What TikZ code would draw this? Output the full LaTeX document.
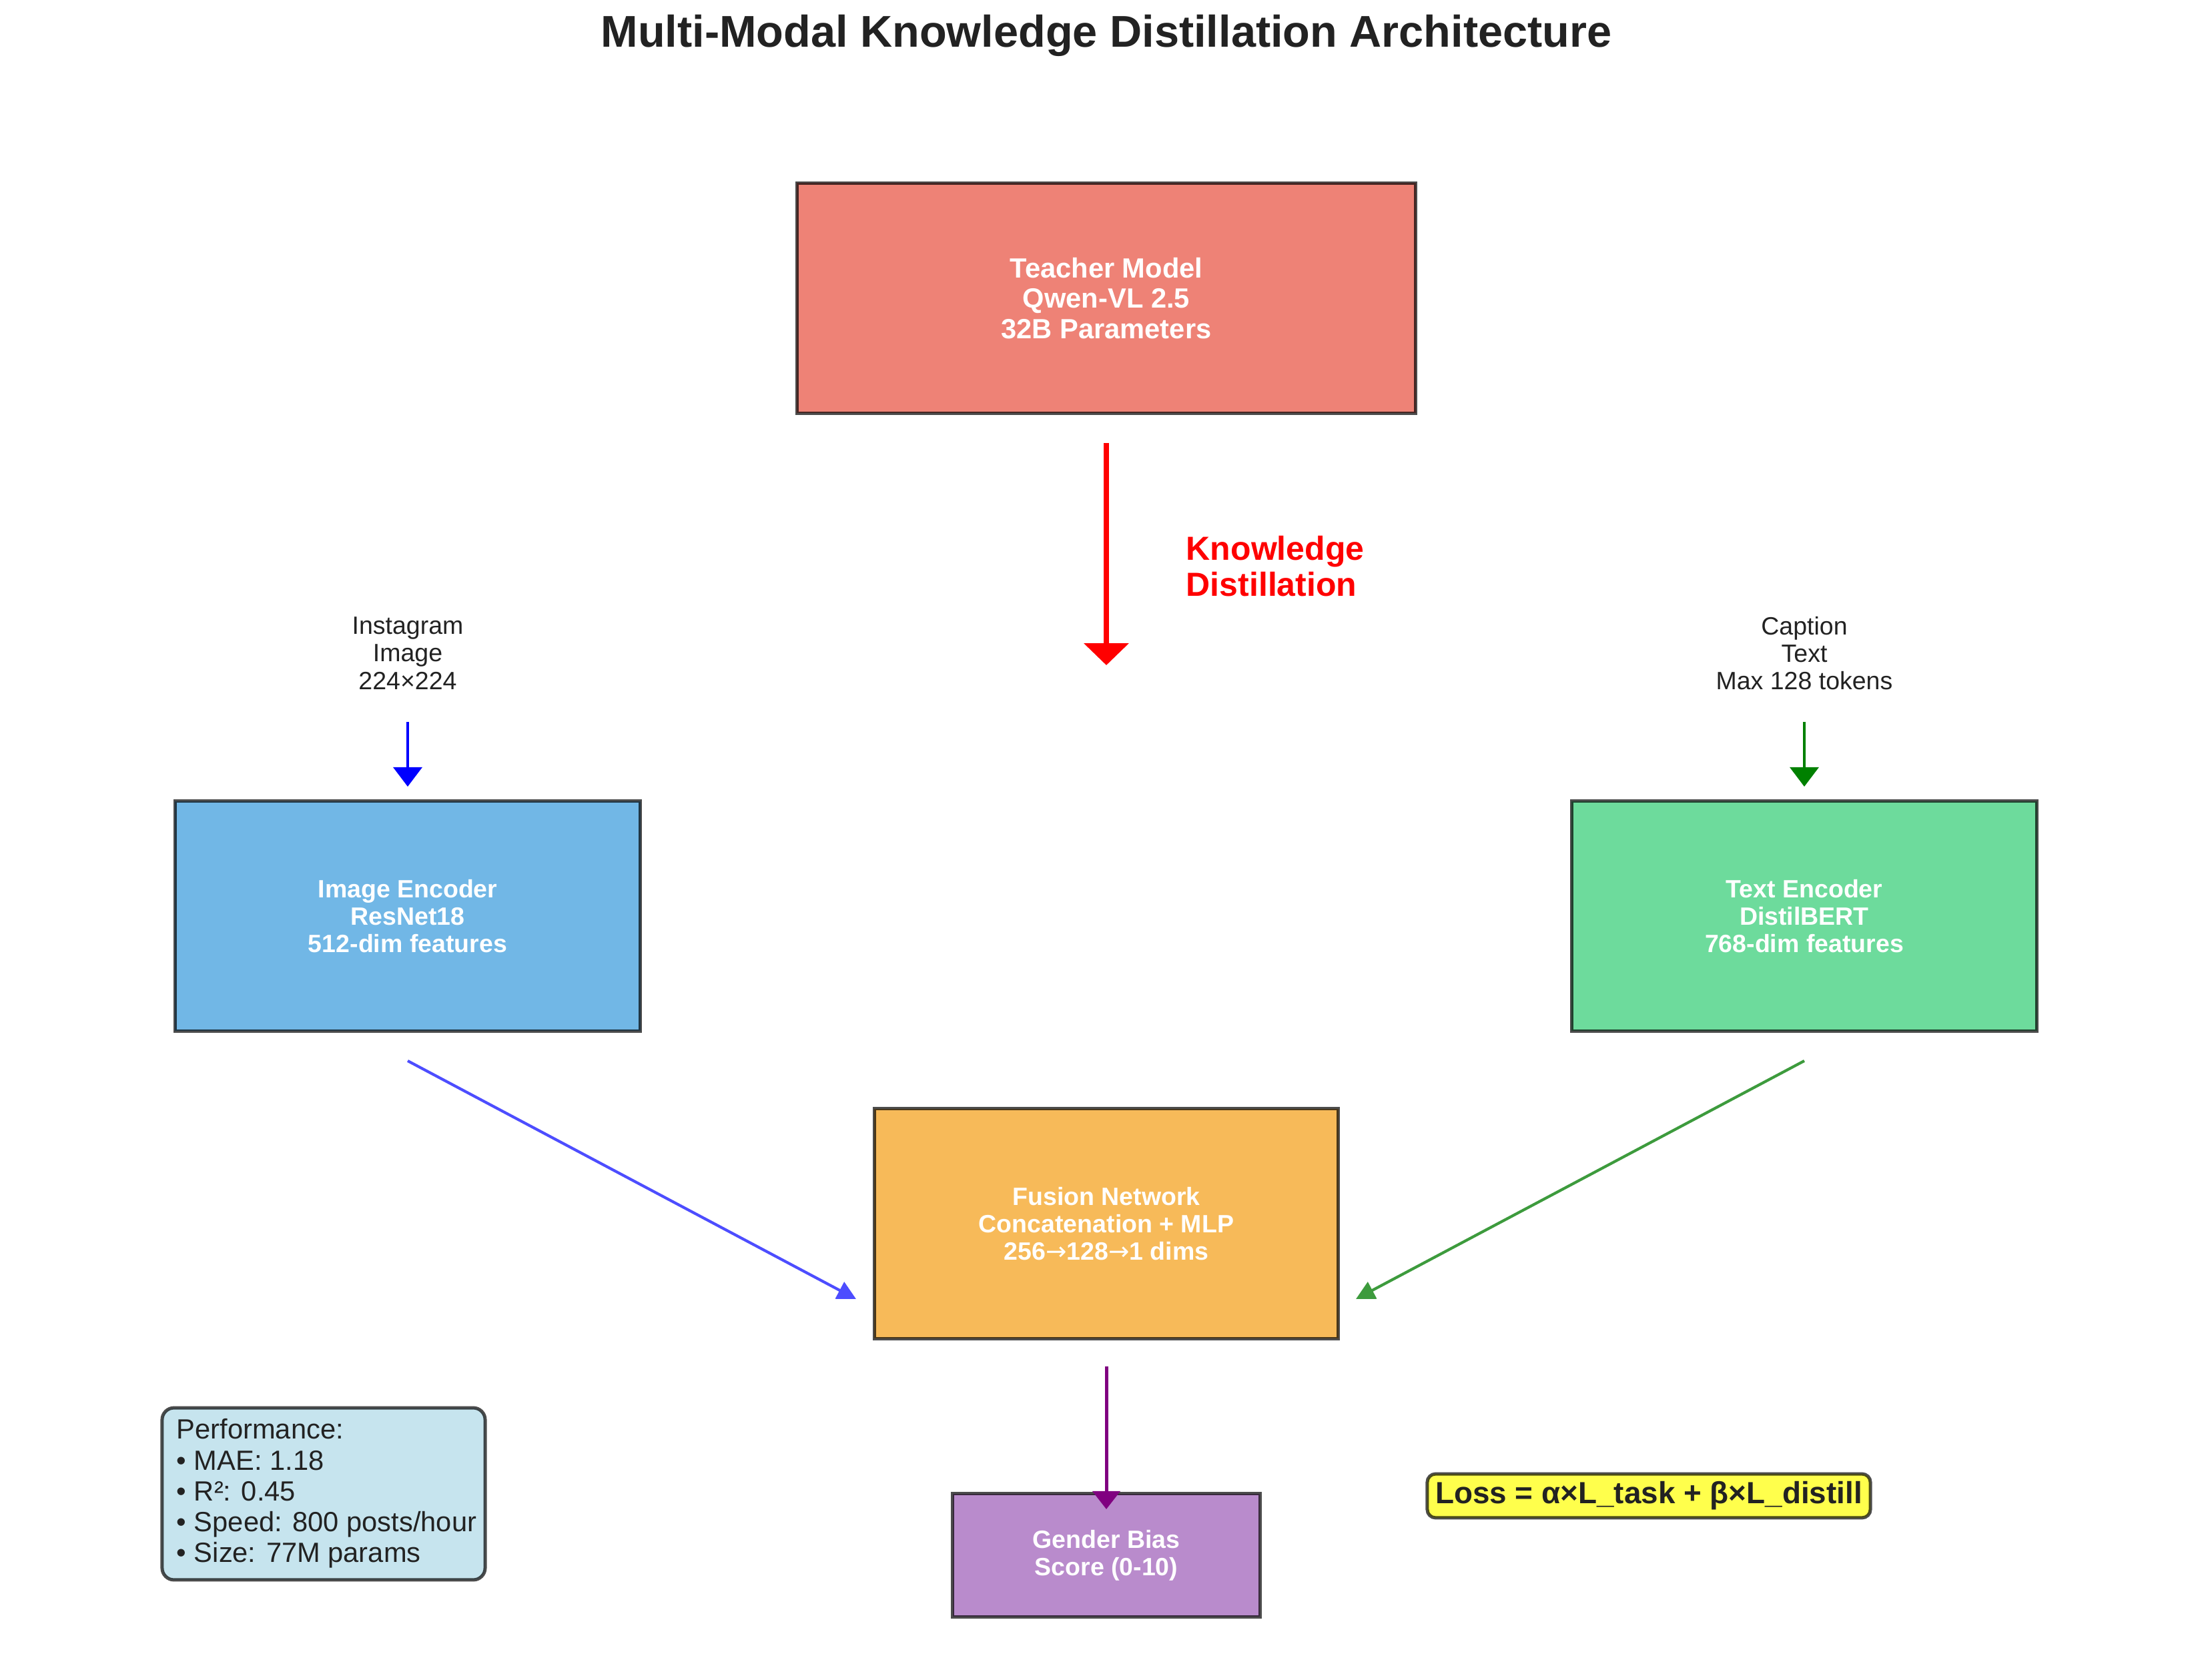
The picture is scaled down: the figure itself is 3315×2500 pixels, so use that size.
\documentclass[tikz,border=0pt]{standalone}
\usepackage{fontspec}
\setmainfont{Liberation Sans}
\newfontfamily\djvfont{DejaVu Sans}
\usetikzlibrary{arrows.meta}
\definecolor{teacherc}{RGB}{238,130,118}
\definecolor{imgc}{RGB}{113,183,230}
\definecolor{txtc}{RGB}{109,219,156}
\definecolor{fusc}{RGB}{247,186,89}
\definecolor{genc}{RGB}{185,139,204}
\definecolor{perfc}{RGB}{198,228,238}
\definecolor{lossc}{RGB}{255,255,76}
\definecolor{ink}{RGB}{34,34,34}
\definecolor{diagblue}{RGB}{77,77,255}
\definecolor{diaggreen}{RGB}{61,155,61}
\definecolor{purplec}{RGB}{128,0,128}
\begin{document}
\begin{tikzpicture}[x=0.24pt,y=-0.24pt,
  box/.style={draw=black, draw opacity=0.7, line width=1.2pt, inner sep=0pt,
    text=white, align=center, font=\bfseries\fontsize{9}{9.9}\selectfont},
  inlabel/.style={text=ink, align=center, inner sep=0pt, font=\fontsize{9}{9.9}\selectfont},
  bigarrow/.style={line width=2.1pt, -{Triangle[width=15.8pt,length=7.9pt]}},
  inarrow/.style={line width=1.1pt, -{Triangle[width=10.3pt,length=7pt]}},
  diagarrow/.style={line width=1pt, -{Triangle[width=6.7pt,length=6.7pt]}}
]
\useasboundingbox (0,0) rectangle (3315,2500);

% title
\node[text=ink, font=\bfseries\fontsize{16}{19}\selectfont] (title) at (1658,53)
  {Multi-Modal Knowledge Distillation Architecture};

% teacher
\node[box, fill=teacherc, minimum width=222.7pt, minimum height=82.8pt,
  font=\bfseries\fontsize{10}{11}\selectfont] (teacher) at (1658,447)
  {Teacher Model\\Qwen-VL 2.5\\32B Parameters};

% knowledge distillation arrow
\coordinate (kdA) at (1658,664);
\coordinate (kdB) at (1658,997);
\draw[bigarrow, red] (kdA) -- (kdB);
\node[text=red, anchor=base west, align=left, inner sep=0pt,
  font=\bfseries\fontsize{12}{13}\selectfont] (kdlabel) at (1777,894)
  {Knowledge\\Distillation};

% inputs
\node[inlabel] (inimg) at (611,979) {Instagram\\Image\\224×224};
\node[inlabel] (intxt) at (2704,979) {Caption\\Text\\Max 128 tokens};

\coordinate (ia) at (611,1082);
\coordinate (ib) at (611,1179);
\coordinate (ta) at (2704,1082);
\coordinate (tb) at (2704,1179);
\draw[inarrow, blue] (ia) -- (ib);
\draw[inarrow, green!50!black] (ta) -- (tb);

% encoders
\node[box, fill=imgc, minimum width=167.5pt, minimum height=82.6pt] (imgenc) at (611,1373)
  {Image Encoder\\ResNet18\\512-dim features};
\node[box, fill=txtc, minimum width=167.5pt, minimum height=82.6pt] (txtenc) at (2704,1373)
  {Text Encoder\\DistilBERT\\768-dim features};

% fusion
\node[box, fill=fusc, minimum width=167.0pt, minimum height=82.6pt] (fusion) at (1658,1834)
  {Fusion Network\\Concatenation + MLP\\256{\djvfont\mdseries →}128{\djvfont\mdseries →}1 dims};

\coordinate (da) at (611,1590);
\coordinate (db) at (1283,1947);
\coordinate (ga) at (2704,1590);
\coordinate (gb) at (2032,1947);
\draw[diagarrow, diagblue] (da) -- (db);
\draw[diagarrow, diaggreen] (ga) -- (gb);

% output
\node[box, fill=genc, minimum width=110.6pt, minimum height=44.2pt] (gender) at (1658,2331)
  {Gender Bias\\Score (0-10)};
\coordinate (pa) at (1658,2048);
\coordinate (pb) at (1658,2262);
\draw[line width=1.2pt, -{Triangle[width=9.8pt,length=6.5pt]}, purplec] (pa) -- (pb);

% performance
\node[draw=black, draw opacity=0.7, line width=1.2pt, fill=perfc, rounded corners=4.3pt,
  minimum width=116.2pt, minimum height=61.9pt, inner sep=0pt] (perf) at (485,2239) {};
\node[text=ink, anchor=north west, align=left, inner sep=0pt,
  font=\fontsize{10}{11.1}\selectfont] (perftext) at (264,2126)
  {Performance:\\• MAE: 1.18\\• R²: 0.45\\• Speed: 800 posts/hour\\• Size: 77M params};

% loss
\node[draw=black, draw opacity=0.7, line width=1.2pt, fill=lossc, rounded corners=3pt,
  minimum width=159.4pt, minimum height=15.8pt, inner sep=0pt, text=ink,
  font=\bfseries\fontsize{11}{12}\selectfont] (loss) at (2471,2242)
  {Loss = α×L\_task + β×L\_distill};
\end{tikzpicture}
\end{document}
